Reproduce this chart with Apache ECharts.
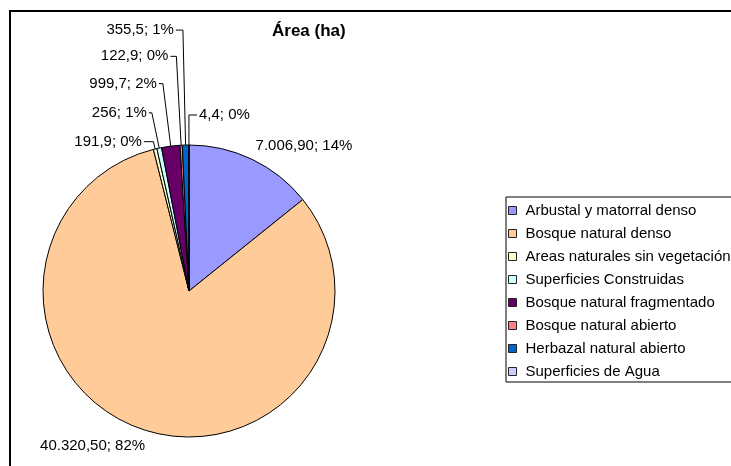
<!DOCTYPE html>
<html lang="es">
<head>
    <meta charset="UTF-8">
    <title>Área (ha)</title>
    <script src="https://cdn.jsdelivr.net/npm/echarts@6/dist/echarts.min.js"></script>
    <style>
        html, body { margin: 0; padding: 0; background: #fff; }
        #chart { width: 731px; height: 466px; }
    </style>
</head>
<body>
    <div id="chart"></div>
</body>
<script>
// datos de la hoja
var categorias = ['Arbustal y matorral denso', 'Bosque natural denso', 'Areas naturales sin vegetación',
    'Superficies Construidas', 'Bosque natural fragmentado', 'Bosque natural abierto',
    'Herbazal natural abierto', 'Superficies de Agua'];
var areas = [7006.9, 40320.5, 191.9, 256, 999.7, 122.9, 355.5, 4.4];
var textoAreas = ['7.006,90', '40.320,50', '191,9', '256', '999,7', '122,9', '355,5', '4,4'];
var colores = ['#9999ff', '#ffcc99', '#ffffcc', '#ccffff', '#660066', '#ff8080', '#0066cc', '#ccccff'];

// largo de las guias de cada etiqueta (primer tramo, segundo tramo, separacion)
var guias = [
    [15, 0, -3, false],
    [17, 0, -8, false],
    [7.5, 9.5, 2, true],
    [36, 3, 2, true],
    [63, 4, 2, true],
    [89, 6, 2, true],
    [115, 7, 2, true],
    [30, 8, 2, true]
];

var myecharts = echarts.init(document.getElementById('chart'));

var datos = categorias.map(function (n, i) {
    return {
        name: n,
        value: areas[i],
        itemStyle: { color: colores[i] },
        label: { distanceToLabelLine: guias[i][2], padding: guias[i][3] ? [5, 0, 0, 0] : 0 },
        labelLine: { show: guias[i][3], length: guias[i][0], length2: guias[i][1] }
    };
});

var option = {
    animation: false,
    backgroundColor: '#fff',
    title: {
        text: 'Área (ha)',
        left: 272,
        top: 23,
        padding: 0,
        textStyle: { fontFamily: 'Arial, Liberation Sans', fontSize: 17, fontWeight: 'bold', color: '#000' }
    },
    legend: {
        orient: 'vertical',
        left: 506,
        top: 197,
        padding: [6, 40, 3, 2],
        itemGap: 8,
        itemWidth: 8,
        itemHeight: 8,
        icon: 'rect',
        borderColor: '#000',
        borderWidth: 1,
        borderRadius: 0,
        itemStyle: { borderColor: '#222', borderWidth: 1 },
        textStyle: { fontFamily: 'Arial, Liberation Sans', fontSize: 15, color: '#000', lineHeight: 15, padding: [0, 0, 0, 4] },
        data: categorias
    },
    graphic: [{
        type: 'rect',
        z: -1,
        shape: { x: 10, y: 11, width: 760, height: 500 },
        style: { fill: 'none', stroke: '#000', lineWidth: 2 }
    }],
    series: [{
        type: 'pie',
        center: [189, 291],
        radius: 146,
        startAngle: 90,
        clockwise: true,
        avoidLabelOverlap: false,
        percentPrecision: 0,
        itemStyle: { borderColor: '#000', borderWidth: 1 },
        emphasis: { disabled: true },
        label: {
            show: true,
            position: 'outside',
            fontFamily: 'Arial, Liberation Sans',
            fontSize: 15,
            color: '#000',
            formatter: function (p) {
                return textoAreas[p.dataIndex] + '; ' + p.percent + '%';
            }
        },
        labelLine: {
            lineStyle: { color: '#000', width: 1 },
            smooth: false
        },
        // la etiqueta de Agua va a la derecha, como en Excel
        labelLayout: function (p) {
            if (p.dataIndex !== 7 || !p.labelLinePoints) return {};
            var pts = p.labelLinePoints;
            var largo = pts[1][0] - pts[2][0];
            pts[2][0] = pts[1][0] + largo;
            return { x: pts[2][0] + 2, align: 'left', labelLinePoints: pts };
        },
        data: datos
    }]
};

myecharts.setOption(option);
</script>
</html>
